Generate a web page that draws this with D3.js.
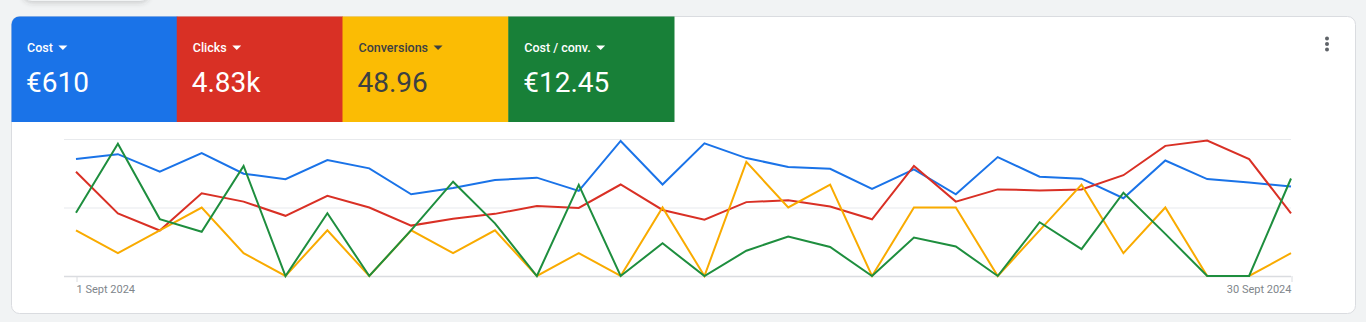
<!DOCTYPE html>
<html>
<head>
<meta charset="utf-8">
<script src="https://cdn.jsdelivr.net/npm/d3@7"></script>
<style>
  html, body { margin: 0; padding: 0; background: #f1f3f4; }
  body { width: 1366px; height: 322px; overflow: hidden; font-family: Roboto, "Noto Sans", sans-serif; }
</style>
</head>
<body>
<div id="wrapper"></div>
<script>
// values, one per day (1-30 Sept 2024)
let days = d3.range(1, 31);
let cost = [23.9, 24.9, 21.3, 25.1, 20.9, 19.8, 23.7, 22.0, 16.7, 18.0,
            19.6, 20.1, 17.4, 27.6, 18.7, 27.1, 24.1, 22.3, 21.9, 17.8,
            21.8, 16.7, 24.3, 20.3, 19.9, 15.9, 23.6, 19.8, 19.1, 18.3];
let clicks = [213, 128, 93, 169, 152, 123, 164, 140, 103, 117,
              127, 143, 139, 187, 135, 115, 151, 155, 142, 116,
              225, 152, 177, 175, 177, 206, 266, 277, 239, 128];
let conversions = [2, 1, 2, 3, 1, 0, 2, 0, 2, 1,
                   2, 0, 1, 0, 3, 0, 5, 3, 4, 0,
                   3, 3, 0, 2, 4, 1, 3, 0, 0, 1];
let costPerConv = [12.0, 25.1, 10.8, 8.4, 20.9, 0, 11.9, 0, 8.7, 17.9,
                   10.0, 0, 17.3, 0, 6.2, 0, 4.8, 7.5, 5.5, 0,
                   7.3, 5.6, 0, 10.2, 5.1, 15.8, 8.0, 0, 0, 18.5];

let tileLabels = ['Cost', 'Clicks', 'Conversions', 'Cost / conv.'];
let tileValues = ['€610', '4.83k', '48.96', '€12.45'];
let tileColors = ['#1a73e8', '#d93025', '#fbbc04', '#188038'];
let tileText = ['#ffffff', '#ffffff', '#3c4043', '#ffffff'];
let lineColors = ['#1a73e8', '#d93025', '#f9ab00', '#1e8e3e'];
let seriesMax = [28, 280, 6, 26];
let xLabels = ['1 Sept 2024', '30 Sept 2024'];

let W = 1366, H = 322;
let svg = d3.select('#wrapper').append('svg')
            .attr('width', W)
            .attr('height', H)
            .style('display', 'block');

// floating card peeking from the top (only its shadow shows)
let defs = svg.append('defs');
let f = defs.append('filter').attr('id', 'shadow').attr('x', '-20%').attr('y', '-50%').attr('width', '140%').attr('height', '200%');
f.append('feDropShadow').attr('dx', 0).attr('dy', 2).attr('stdDeviation', 2.5).attr('flood-color', '#3c4043').attr('flood-opacity', 0.22);
svg.append('rect')
   .attr('x', 22).attr('y', -30).attr('width', 128).attr('height', 31)
   .attr('rx', 10).attr('fill', '#f1f3f4').attr('filter', 'url(#shadow)');

// card
let card = { x: 11.5, y: 16.5, w: 1344, h: 297 };
defs.append('clipPath').attr('id', 'cardClip')
    .append('rect').attr('x', card.x).attr('y', card.y).attr('width', card.w).attr('height', card.h).attr('rx', 8);
svg.append('rect')
   .attr('x', card.x).attr('y', card.y).attr('width', card.w).attr('height', card.h)
   .attr('rx', 8).attr('fill', '#ffffff').attr('stroke', '#dadce0');

// metric tiles
let tileScale = d3.scaleBand().domain(tileLabels).range([11, 674]);
let tiles = svg.append('g').attr('clip-path', 'url(#cardClip)')
               .selectAll('g').data(tileLabels).enter().append('g')
               .attr('transform', function(d) { return 'translate(' + tileScale(d) + ',16)'; });
tiles.append('rect')
     .attr('width', tileScale.bandwidth() + 0.5).attr('height', 106)
     .attr('fill', function(d, i) { return tileColors[i]; });
tiles.append('text')
     .attr('x', 16).attr('y', 35.5)
     .attr('fill', function(d, i) { return tileText[i]; })
     .style('font-size', '12.5px').style('font-weight', 500)
     .text(function(d) { return d; });
tiles.each(function(d, i) {
  let w = d3.select(this).select('text').node().getComputedTextLength();
  let cx = 16 + w + 10;
  d3.select(this).append('path')
    .attr('d', 'M' + (cx - 4.5) + ',29.5 L' + (cx + 4.5) + ',29.5 L' + cx + ',34 Z')
    .attr('fill', tileText[i]);
});
tiles.append('text')
     .attr('x', 15).attr('y', 76)
     .attr('fill', function(d, i) { return tileText[i]; })
     .style('font-size', '28px').style('font-weight', 400)
     .text(function(d, i) { return tileValues[i]; });

// kebab menu
svg.append('g').selectAll('circle').data([0, 1, 2]).enter().append('circle')
   .attr('cx', 1327).attr('cy', function(d) { return 38.5 + d * 5.5; })
   .attr('r', 2).attr('fill', '#5f6368');

// chart
let parse = d3.timeParse('%Y-%m-%d');
let dates = days.map(function(d) { return parse('2024-09-' + (d < 10 ? '0' + d : d)); });
let xscale = d3.scaleTime().domain(d3.extent(dates)).range([76, 1291]);
let yTop = 139, yBottom = 276;
let grid = d3.scaleLinear().domain([0, 2]).range([yBottom, yTop]);

svg.append('g').selectAll('line').data([0, 1, 2]).enter().append('line')
   .attr('x1', 64).attr('x2', 1291)
   .attr('y1', function(d) { return grid(d) + 0.5; })
   .attr('y2', function(d) { return grid(d) + 0.5; })
   .attr('stroke', function(d) { return d === 0 ? '#dadce0' : '#e8eaed'; })
   .attr('stroke-width', function(d) { return d === 0 ? 1.5 : 1.2; });

let xAxis = d3.axisBottom(xscale)
              .tickValues([dates[0], dates[dates.length - 1]])
              .tickSize(6)
              .tickFormat(function(d, i) { return xLabels[i]; });
let x_xis = svg.append('g')
               .attr('transform', 'translate(0,' + yBottom + ')')
               .call(xAxis);
x_xis.select('.domain').remove();
x_xis.selectAll('line').attr('stroke', '#dadce0').attr('transform', 'translate(0.5,0)');
x_xis.selectAll('text')
     .attr('y', 9).attr('fill', '#80868b')
     .style('font-size', '11px').style('font-family', 'Roboto, sans-serif')
     .attr('text-anchor', function(d, i) { return i === 0 ? 'start' : 'end'; });

let series = [cost, clicks, conversions, costPerConv];
let lines = svg.append('g').attr('id', 'lines');
series.forEach(function(vals, k) {
  let yscale = d3.scaleLinear().domain([0, seriesMax[k]]).range([yBottom, yTop]);
  let line = d3.line()
               .x(function(d, i) { return xscale(dates[i]); })
               .y(function(d) { return yscale(d); });
  lines.append('path')
       .datum(vals)
       .attr('d', line)
       .attr('fill', 'none')
       .attr('stroke', lineColors[k])
       .attr('stroke-width', 2)
       .attr('stroke-linejoin', 'miter');
});
</script>
</body>
</html>
